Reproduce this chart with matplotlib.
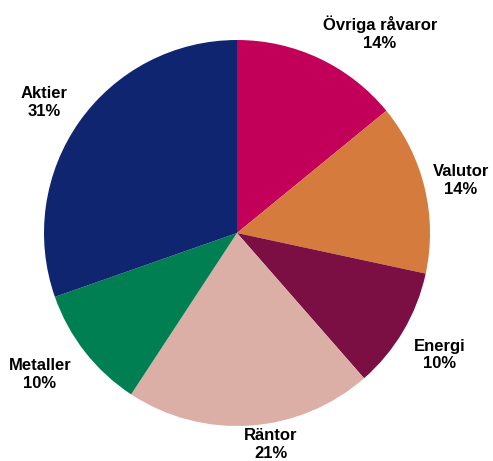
import matplotlib.pyplot as plt

labels = ['Övriga råvaror', 'Valutor', 'Energi', 'Räntor', 'Metaller', 'Aktier']
# shares as drawn and as printed in labels
shares = [14.1, 14.3, 10.2, 20.7, 10.4, 30.4]
pct_text = ['14%', '14%', '10%', '21%', '10%', '31%']
colors = ['#C2005A', '#D57B3D', '#7B0E43', '#DBAFA5', '#008052', '#10256F']
# label centres in pixel coords (x, y from top)
label_pos = [(380, 33), (461, 181), (440, 355), (271, 444), (40, 375), (44, 102)]

W, H = 493, 461
fig = plt.figure(figsize=(W / 100, H / 100), dpi=100)
ax = fig.add_axes([0, 0, 1, 1])

ax.pie(shares, colors=colors, startangle=90, counterclock=False,
       center=(237, H - 233), radius=193, frame=True,
       wedgeprops=dict(linewidth=0))
ax.set_xlim(0, W)
ax.set_ylim(0, H)
ax.set_aspect('equal')
ax.axis('off')

for lab, pct, (px, py) in zip(labels, pct_text, label_pos):
    ax.text(px, H - py, f'{lab}\n{pct}', ha='center', va='center',
            fontsize=12, fontweight='bold', family='Liberation Sans',
            linespacing=1.25)

fig.savefig('out.png', dpi=100)
